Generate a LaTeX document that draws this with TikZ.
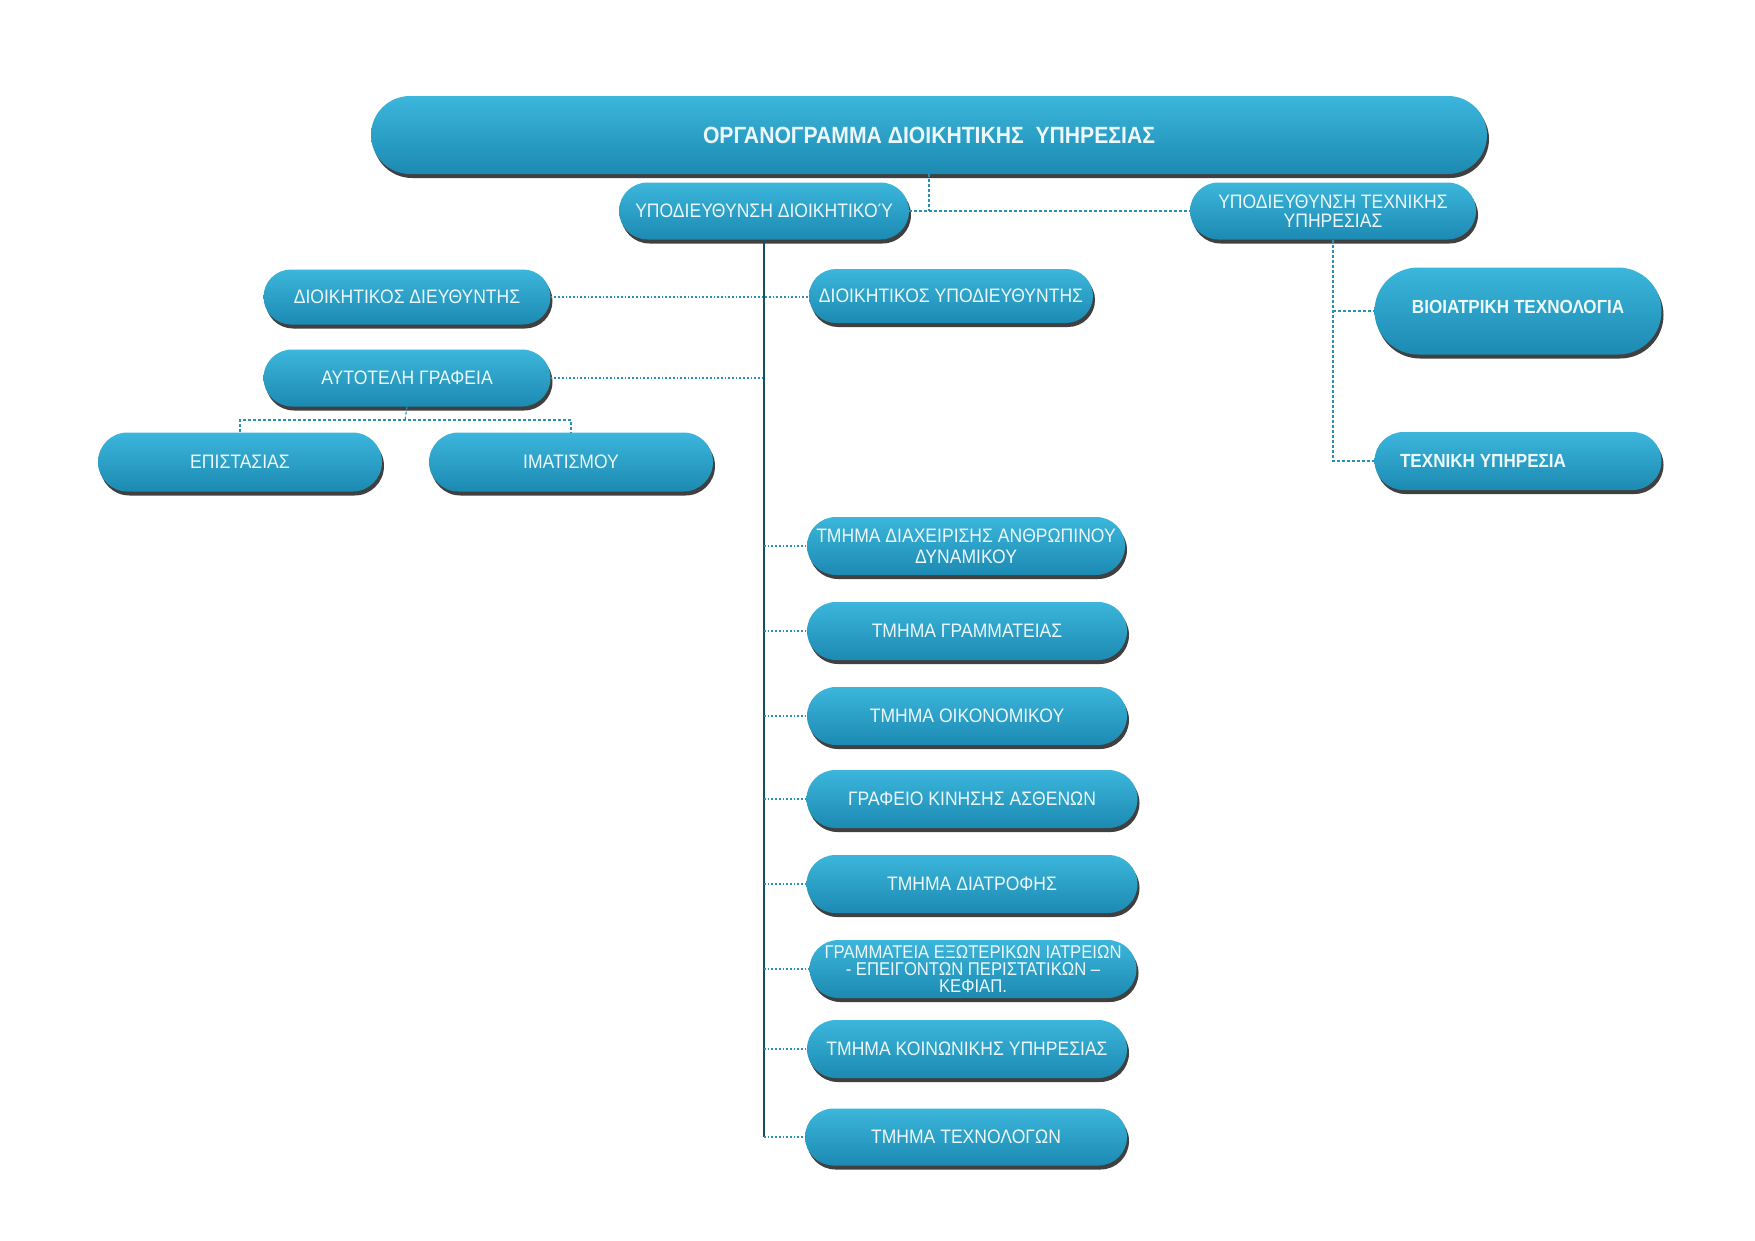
\documentclass[tikz,border=0pt]{standalone}
\usepackage{fontspec}
\setmainfont[FakeStretch=0.9]{Liberation Sans}
\usetikzlibrary{shapes.misc,shadows}
\definecolor{boxtop}{RGB}{60,182,220}
\definecolor{boxbot}{RGB}{28,138,178}
\definecolor{lnk}{RGB}{40,145,182}
\definecolor{spinec}{RGB}{22,78,98}
\definecolor{txt}{RGB}{236,248,252}
\tikzset{
  pill/.style={rounded rectangle, top color=boxtop, bottom color=boxbot, draw=none,
    inner sep=0pt, text=txt, align=center,
    font=\fontsize{19.5}{21}\selectfont,
    drop shadow={shadow xshift=2pt, shadow yshift=-4pt, fill=black, opacity=0.75}},
  boldpill/.style={pill, font=\bfseries\fontsize{19}{21}\selectfont},
  link/.style={lnk, line width=1.7pt, dotted},
  thinlink/.style={lnk, line width=1.1pt, densely dashed},
  spine/.style={spinec, line width=1.6pt}
}
\begin{document}
\begin{tikzpicture}[x=1pt,y=-1pt]
\useasboundingbox[fill=white] (0,0) rectangle (1755,1240);

\node[pill, minimum width=1116pt, minimum height=78pt, font=\bfseries\fontsize{23.5}{26}\selectfont] (title) at (929,135) {ΟΡΓΑΝΟΓΡΑΜΜΑ ΔΙΟΙΚΗΤΙΚΗΣ \ ΥΠΗΡΕΣΙΑΣ};

\node[pill, minimum width=290pt, minimum height=57pt] (ypd) at (764,211) {ΥΠΟΔΙΕΥΘΥΝΣΗ ΔΙΟΙΚΗΤΙΚΟΎ};
\node[pill, minimum width=286pt, minimum height=57pt, font=\fontsize{19.5}{19}\selectfont] (ypt) at (1333,211) {ΥΠΟΔΙΕΥΘΥΝΣΗ ΤΕΧΝΙΚΗΣ\\ΥΠΗΡΕΣΙΑΣ};

\node[pill, minimum width=287pt, minimum height=55pt] (dd) at (407,297) {ΔΙΟΙΚΗΤΙΚΟΣ ΔΙΕΥΘΥΝΤΗΣ};
\node[pill, minimum width=284pt, minimum height=54pt] (dy) at (951,296) {ΔΙΟΙΚΗΤΙΚΟΣ ΥΠΟΔΙΕΥΘΥΝΤΗΣ};
\node[pill, minimum width=287pt, minimum height=57pt] (at) at (407,378) {ΑΥΤΟΤΕΛΗ ΓΡΑΦΕΙΑ};
\node[pill, minimum width=284pt, minimum height=59pt] (epi) at (240,462) {ΕΠΙΣΤΑΣΙΑΣ};
\node[pill, minimum width=284pt, minimum height=59pt] (ima) at (571,462) {ΙΜΑΤΙΣΜΟΥ};

\node[boldpill, minimum width=287pt, minimum height=87pt] (bio) at (1518,311) {\raisebox{8pt}{ΒΙΟΙΑΤΡΙΚΗ ΤΕΧΝΟΛΟΓΙΑ}};
\node[boldpill, minimum width=287pt, minimum height=58pt] (tech) at (1518,461) {\makebox[236pt][l]{ΤΕΧΝΙΚΗ ΥΠΗΡΕΣΙΑ}};

\node[pill, minimum width=318pt, minimum height=58pt] (t1) at (966,546) {ΤΜΗΜΑ ΔΙΑΧΕΙΡΙΣΗΣ ΑΝΘΡΩΠΙΝΟΥ\\ΔΥΝΑΜΙΚΟΥ};
\node[pill, minimum width=320pt, minimum height=58pt] (t2) at (967,631) {ΤΜΗΜΑ ΓΡΑΜΜΑΤΕΙΑΣ};
\node[pill, minimum width=320pt, minimum height=58pt] (t3) at (967,716) {ΤΜΗΜΑ ΟΙΚΟΝΟΜΙΚΟΥ};
\node[pill, minimum width=331pt, minimum height=58pt] (t4) at (972,799) {ΓΡΑΦΕΙΟ ΚΙΝΗΣΗΣ ΑΣΘΕΝΩΝ};
\node[pill, minimum width=331pt, minimum height=58pt] (t5) at (972,884) {ΤΜΗΜΑ ΔΙΑΤΡΟΦΗΣ};
\node[pill, minimum width=327pt, minimum height=58pt, font=\fontsize{18.5}{17}\selectfont] (t6) at (973,969) {ΓΡΑΜΜΑΤΕΙΑ ΕΞΩΤΕΡΙΚΩΝ ΙΑΤΡΕΙΩΝ\\- ΕΠΕΙΓΟΝΤΩΝ ΠΕΡΙΣΤΑΤΙΚΩΝ –\\ΚΕΦΙΑΠ.};
\node[pill, minimum width=320pt, minimum height=58pt] (t7) at (967,1049) {ΤΜΗΜΑ ΚΟΙΝΩΝΙΚΗΣ ΥΠΗΡΕΣΙΑΣ};
\node[pill, minimum width=322pt, minimum height=57pt] (t8) at (966,1137) {ΤΜΗΜΑ ΤΕΧΝΟΛΟΓΩΝ};

% top connectors
\draw[thinlink] (title.south) -- (title.south |- ypd.east);
\draw[thinlink] (ypd.east) -- (ypt.west);

% main spine
\draw[spine] (ypd.south) -- (ypd.south |- t8.west);
\draw[link] (dd.east) -- (dd.east -| dy.west);
\draw[link] (at.east) -- (at.east -| ypd.south);
\foreach \n in {t1,t2,t3,t4,t5,t6,t7,t8}
  \draw[link] (ypd.south |- \n.west) -- (\n.west);

% autotele branch
\coordinate (atj) at (405,420);
\draw[thinlink] (at.south) -- (atj);
\draw[thinlink] (epi.north) |- (atj) -| (ima.north);

% technical branch
\draw[thinlink] (ypt.south) -- (ypt.south |- tech.west) -- (tech.west);
\draw[thinlink] (ypt.south |- bio.west) -- (bio.west);
\end{tikzpicture}
\end{document}
